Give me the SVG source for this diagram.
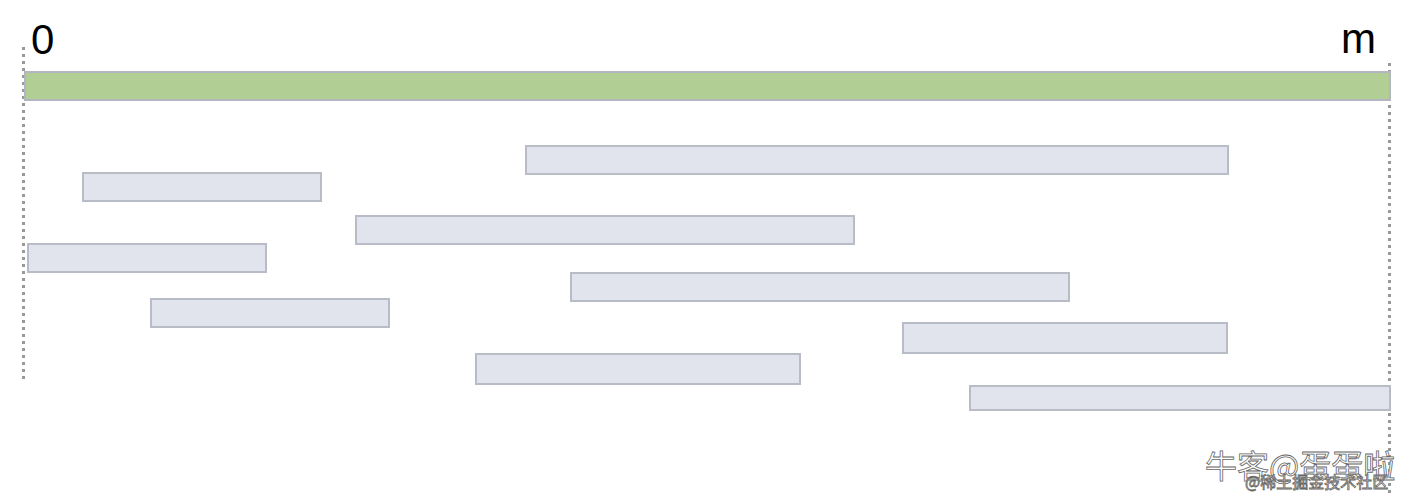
<svg xmlns="http://www.w3.org/2000/svg" width="1412" height="496" viewBox="0 0 1412 496">
<style>
.lbl{font-family:"Liberation Sans",Arial,sans-serif;font-size:42px;fill:#000}
.seg{fill:#e1e4ec;stroke:#b7bcc7;stroke-width:2}
.bound{stroke:#999;stroke-width:3;stroke-dasharray:3 4;fill:none}
.wm{font-family:"Noto Sans CJK SC",sans-serif;fill:#fff;stroke:#666;stroke-width:0.8}
</style>
<rect width="1412" height="496" fill="#fff"/>
<g id="boundaries">
<line class="bound" x1="23.5" y1="47" x2="23.5" y2="381"/>
<line class="bound" x1="1389.5" y1="63" x2="1389.5" y2="496"/>
</g>
<g id="labels">
<text class="lbl" x="31" y="54">0</text>
<text class="lbl" x="1341" y="53">m</text>
</g>
<g id="range"><rect x="25" y="72" width="1365" height="28" fill="#b1cf94" stroke="#b3b6c0" stroke-width="2"/></g>
<g id="seg1"><rect class="seg" x="526" y="146" width="702" height="28"/></g>
<g id="seg2"><rect class="seg" x="83" y="173" width="238" height="28"/></g>
<g id="seg3"><rect class="seg" x="356" y="216" width="498" height="28"/></g>
<g id="seg4"><rect class="seg" x="28" y="244" width="238" height="28"/></g>
<g id="seg5"><rect class="seg" x="571" y="273" width="498" height="28"/></g>
<g id="seg6"><rect class="seg" x="151" y="299" width="238" height="28"/></g>
<g id="seg7"><rect class="seg" x="903" y="323" width="324" height="30"/></g>
<g id="seg8"><rect class="seg" x="476" y="354" width="324" height="30"/></g>
<g id="seg9"><rect class="seg" x="970" y="386" width="420" height="24"/></g>
<g id="watermark">
<text class="wm" x="1205" y="478" font-size="32">牛客@蛋蛋啦</text>
<text class="wm" x="1245" y="488" font-size="16" stroke-width="0.5">@稀土掘金技术社区</text>
</g>
</svg>
